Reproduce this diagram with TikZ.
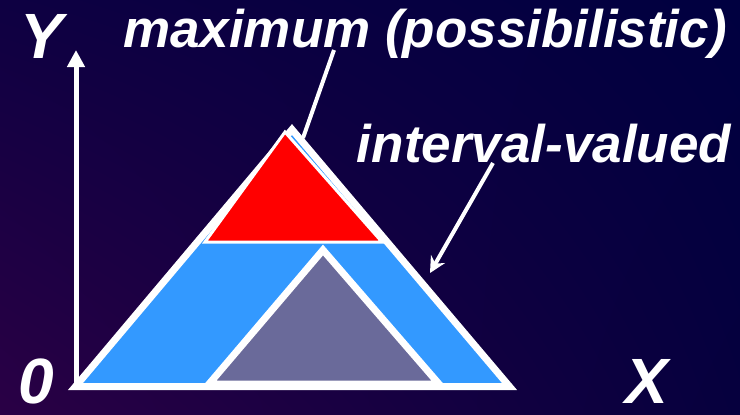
\documentclass[tikz,border=0pt]{standalone}
\usepackage{fontspec}
\setmainfont{Liberation Sans}
\usetikzlibrary{arrows.meta,shadings}
\definecolor{bgul}{HTML}{0E0042}
\definecolor{bgur}{HTML}{000040}
\definecolor{bgll}{HTML}{2A0045}
\definecolor{bglr}{HTML}{06003E}
\definecolor{bandblue}{HTML}{3399FF}
\definecolor{coregrey}{HTML}{6A6A9A}

\begin{document}
\begin{tikzpicture}[x=1pt,y=-1pt,>=Stealth,
  lbl/.style={text=white,inner sep=0pt,anchor=base,font=\bfseries\itshape\fontsize{53}{53}\selectfont},
  axlbl/.style={lbl,text depth=0pt,font=\bfseries\itshape\fontsize{64}{64}\selectfont},
  rim/.style={draw=white,line join=miter},
  ptr/.style={draw=white,line width=4pt,-{Stealth[length=16pt,width=16pt]}}]
\shade[upper left=bgul,upper right=bgur,lower left=bgll,lower right=bglr] (0,0) rectangle (740,415);
\useasboundingbox (0,0) rectangle (740,415);
% axis
\coordinate (O) at (76,386);
\coordinate (ytop) at (76,50);
\draw[white,line width=5pt,-{Triangle[length=17pt,width=17pt]}] (O) -- (ytop);
% the three triangles
\draw[rim,fill=bandblue,line width=7pt] (75.5,386.5) -- (292,129.5) -- (509.5,386.5) -- cycle;
\draw[rim,fill=red,line width=3pt] (205,242) -- (285,132) -- (382,242) -- cycle;
\draw[rim,fill=coregrey,line width=7pt] (209,384) -- (323,250) -- (439,384) -- cycle;
% labels
\node[axlbl] (ylbl) at (42,58) {Y};
\node[axlbl] (zero) at (36,403) {0};
\node[axlbl] (xlbl) at (647,403) {X};
\node[lbl] (maxlbl) at (425,47) {maximum (possibilistic)};
\node[lbl] (intlbl) at (544,162) {interval-valued};
% pointers
\coordinate (maxfrom) at (334,50);
\coordinate (maxto) at (303,138);
\draw[white,line width=4pt] (maxfrom) -- (maxto);
\coordinate (intfrom) at (493,163);
\coordinate (intto) at (430,273);
\draw[ptr] (intfrom) -- (intto);
\end{tikzpicture}
\end{document}
